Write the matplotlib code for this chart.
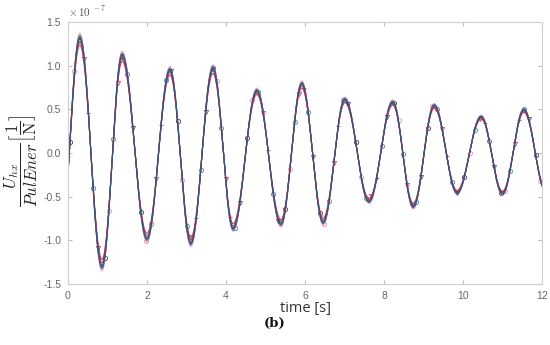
import numpy as np
import matplotlib
matplotlib.use('Agg')
import matplotlib.pyplot as plt
from matplotlib.ticker import FormatStrFormatter

# extrema of the pulse response (units of 1e-7 1/N)
# first and last entries sit just outside the 0..12 s window
t_ext = [-0.22, 0.30, 0.86, 1.37, 2.00, 2.58, 3.11, 3.67, 4.18, 4.78, 5.39, 5.92,
         6.46, 7.01, 7.62, 8.22, 8.74, 9.27, 9.85, 10.46, 11.00, 11.54, 12.10]
v_ext = [-1.20, 1.33, -1.31, 1.13, -0.99, 0.96, -1.04, 0.98, -0.87, 0.72, -0.82, 0.80,
         -0.80, 0.62, -0.56, 0.59, -0.62, 0.55, -0.46, 0.42, -0.47, 0.50, -0.45]

# the repeated runs differ mostly by amplitude
run_gain = [1.00, 1.03, 0.98, 0.93, 0.96, 1.01, 0.99]
run_color = ['#1d2a48', '#e58aa0', '#2f8f72', '#c2304e', '#9a3a6a', '#4a6aa8', '#3d4d6a']
run_marker = ['o', 'o', 'o', 'v', '+', 'o', 'v']

xticks = [0, 2, 4, 6, 8, 10, 12]
yticks = [-1.5, -1.0, -0.5, 0.0, 0.5, 1.0, 1.5]

plt.rcParams['axes.unicode_minus'] = False
plt.rcParams['mathtext.fontset'] = 'cm'

# smooth half-cosine between consecutive extrema
tt = []
vv = []
for k in range(len(t_ext) - 1):
    ts = np.linspace(t_ext[k], t_ext[k+1], 60, endpoint=False)
    fr = (ts - t_ext[k]) / (t_ext[k+1] - t_ext[k])
    mid = 0.5 * (v_ext[k] + v_ext[k+1])
    amp = 0.5 * (v_ext[k] - v_ext[k+1])
    tt.append(ts)
    vv.append(mid + amp * np.cos(np.pi * fr))
tt = np.concatenate(tt)
vv = np.concatenate(vv)
keep = (tt >= 0) & (tt <= 12)
tt = tt[keep]
vv = vv[keep]

fig = plt.figure(figsize=(5.5, 3.45), dpi=100)
ax = fig.add_axes([0.1236, 0.177, 0.8619, 0.759])

for i, g in enumerate(run_gain):
    ax.plot(tt, vv * g, color=run_color[i], lw=0.8, marker=run_marker[i],
            markersize=3, markerfacecolor='none', markeredgewidth=0.6,
            markevery=(13 * i + 5, 97), alpha=0.9)

ax.set_xlim(0, 12)
ax.set_ylim(-1.5, 1.5)
ax.set_xticks(xticks)
ax.set_yticks(yticks)
ax.yaxis.set_major_formatter(FormatStrFormatter('%.1f'))
ax.tick_params(direction='in', length=3, color='#bbbbbb', labelsize=7.5,
               labelcolor='#666666', top=True, right=True, pad=5)
for s in ax.spines.values():
    s.set_color('#d0d0d0')
    s.set_linewidth(0.8)

ax.text(0.0, 1.012, r'$\times\,10^{\ -7}$', transform=ax.transAxes, fontsize=8,
        color='#555555', ha='left', va='bottom', family='Liberation Sans')

ax.set_xlabel('time [s]', family='Open Sans', fontsize=10.5, color='#333333', labelpad=0)
ax.set_ylabel(r'$\dfrac{U_{hx}}{PulEner}\left[\dfrac{1}{\mathrm{N}}\right]$',
              fontsize=12, color='#222222')
ax.yaxis.set_label_coords(-0.058, 0.47)

fig.text(0.5, 0.062, '(b)', family='DejaVu Serif', fontweight='bold', fontsize=9.5,
         ha='center', va='center', color='#111111')

for lab in ax.get_xticklabels() + ax.get_yticklabels():
    lab.set_family('Liberation Sans')

fig.savefig('out.png', dpi=100)
